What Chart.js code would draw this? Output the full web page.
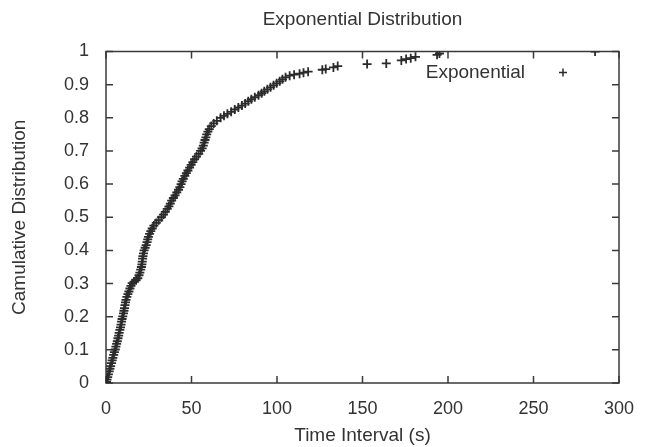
<!DOCTYPE html>
<html>
<head>
<meta charset="utf-8">
<script src="https://cdn.jsdelivr.net/npm/chart.js@4.4.0/dist/chart.umd.min.js"></script>
<style>
  html, body { margin: 0; padding: 0; background: #fff; }
</style>
</head>
<body>
<canvas id="chart" width="647" height="447"></canvas>
<script>
// Labels
const chartTitle = 'Exponential Distribution';
const xTitle = 'Time Interval (s)';
const yTitle = 'Camulative Distribution';
const seriesName = 'Exponential';

// Tick labels
const xTicks = [0, 50, 100, 150, 200, 250, 300];
const yTicks = [0, 0.1, 0.2, 0.3, 0.4, 0.5, 0.6, 0.7, 0.8, 0.9, 1];

// Series values (time interval, cumulative fraction)
const intervals = [
  0.3, 0.6, 1.0, 1.4, 1.9, 2.3, 2.7, 3.2, 3.6, 4.0,
  4.5, 4.9, 5.4, 5.8, 6.2, 6.6, 7.0, 7.4, 7.7, 8.1,
  8.5, 8.8, 9.1, 9.4, 9.8, 10.2, 10.5, 10.8, 11.1, 11.4,
  11.7, 12.2, 12.8, 13.4, 14.0, 14.6, 15.3, 16.4, 17.6, 18.6,
  19.3, 19.8, 20.3, 20.7, 21.0, 21.2, 21.4, 21.6, 21.9, 22.3,
  22.9, 23.5, 24.0, 24.4, 24.8, 25.5, 26.2, 27.0, 28.0, 29.4,
  30.8, 32.4, 33.6, 34.7, 35.8, 36.8, 37.6, 38.4, 39.4, 40.4,
  41.4, 42.4, 43.2, 43.9, 44.5, 45.2, 46.1, 47.0, 47.9, 48.9,
  49.8, 50.8, 51.8, 52.9, 54.2, 55.3, 56.2, 56.9, 57.4, 57.9,
  58.4, 58.9, 59.6, 60.4, 61.6, 63.0, 64.8, 67.0, 69.0, 71.0,
  73.2, 75.3, 77.4, 79.5, 81.4, 83.2, 85.0, 87.0, 89.2, 91.0,
  92.6, 94.4, 96.2, 98.0, 99.8, 101.6, 103.2, 105.0, 107.4, 110.0,
  113.2, 115.5, 118.2, 126.5, 128.5, 133.0, 135.5,
  152.7, 163.9, 172.7, 175.5, 178.2, 181.0, 193.6, 195.0, 286.0
];
const cumulative = [
  0.003, 0.010, 0.018, 0.026, 0.035, 0.043, 0.051, 0.060, 0.068, 0.076,
  0.085, 0.093, 0.101, 0.110, 0.118, 0.126, 0.135, 0.143, 0.151, 0.160,
  0.168, 0.176, 0.185, 0.193, 0.201, 0.210, 0.218, 0.226, 0.235, 0.243,
  0.251, 0.260, 0.268, 0.276, 0.285, 0.293, 0.301, 0.306, 0.310, 0.316,
  0.325, 0.333, 0.342, 0.350, 0.358, 0.366, 0.375, 0.383, 0.391, 0.400,
  0.408, 0.416, 0.425, 0.433, 0.441, 0.450, 0.458, 0.466, 0.475, 0.483,
  0.491, 0.500, 0.508, 0.516, 0.525, 0.533, 0.541, 0.550, 0.558, 0.566,
  0.575, 0.583, 0.591, 0.600, 0.608, 0.616, 0.625, 0.633, 0.641, 0.650,
  0.658, 0.666, 0.675, 0.683, 0.691, 0.700, 0.708, 0.716, 0.725, 0.733,
  0.741, 0.750, 0.758, 0.766, 0.775, 0.783, 0.791, 0.800, 0.806, 0.812,
  0.818, 0.825, 0.831, 0.837, 0.843, 0.850, 0.856, 0.862, 0.868, 0.874,
  0.880, 0.886, 0.892, 0.898, 0.904, 0.910, 0.916, 0.922, 0.927, 0.930,
  0.933, 0.936, 0.939, 0.945, 0.947, 0.952, 0.956,
  0.962, 0.964, 0.973, 0.977, 0.980, 0.984, 0.990, 0.994, 1.000
];

const textColor = '#333';
const lineColor = '#3a3a3a';
const markColor = '#2b2b2b';
const fontFamily = '"Liberation Sans", Arial, Helvetica, sans-serif';
const tickSize = 18;
const labelSize = 19;

// gnuplot-like frame, inward ticks on all four sides, title and key
const gnuplotFrame = {
  id: 'gnuplotFrame',
  beforeDatasetsDraw(chart) {
    const { ctx, chartArea: a, scales: { x, y } } = chart;
    const len = 7;
    ctx.save();
    ctx.strokeStyle = lineColor;
    ctx.lineWidth = 1.5;
    ctx.strokeRect(a.left, a.top, a.right - a.left, a.bottom - a.top);
    ctx.beginPath();
    xTicks.forEach(v => {
      const px = x.getPixelForValue(v);
      ctx.moveTo(px, a.bottom); ctx.lineTo(px, a.bottom - len);
      ctx.moveTo(px, a.top); ctx.lineTo(px, a.top + len);
    });
    yTicks.forEach(v => {
      const py = y.getPixelForValue(v);
      ctx.moveTo(a.left, py); ctx.lineTo(a.left + len, py);
      ctx.moveTo(a.right, py); ctx.lineTo(a.right - len, py);
    });
    ctx.stroke();
    ctx.restore();
  },
  afterDraw(chart) {
    const { ctx, chartArea: a } = chart;
    ctx.save();
    ctx.fillStyle = textColor;
    ctx.font = `${labelSize}px ${fontFamily}`;
    ctx.textBaseline = 'middle';

    // title
    ctx.textAlign = 'center';
    ctx.fillText(chartTitle, (a.left + a.right) / 2, 20);

    // key: text then sample
    ctx.textAlign = 'right';
    const ky = a.top + 21;
    ctx.fillText(seriesName, a.right - 94, ky);
    const kx = a.right - 56;
    ctx.strokeStyle = markColor;
    ctx.lineWidth = 1.5;
    ctx.beginPath();
    ctx.moveTo(kx - 4, ky); ctx.lineTo(kx + 4, ky);
    ctx.moveTo(kx, ky - 4); ctx.lineTo(kx, ky + 4);
    ctx.stroke();
    ctx.restore();
  }
};

const points = intervals.map((v, i) => ({ x: v, y: cumulative[i] }));

new Chart(document.getElementById('chart'), {
  type: 'scatter',
  data: {
    datasets: [{
      label: seriesName,
      data: points,
      pointStyle: 'cross',
      pointRadius: 4.5,
      pointBorderWidth: 1.8,
      borderColor: markColor,
      backgroundColor: markColor
    }]
  },
  options: {
    responsive: false,
    devicePixelRatio: 1,
    animation: false,
    layout: {
      padding: { top: 51.5, right: 28, left: 0, bottom: 0 }
    },
    scales: {
      x: {
        type: 'linear',
        min: 0,
        max: 300,
        afterBuildTicks: (s) => { s.ticks = xTicks.map(v => ({ value: v })); },
        afterFit: (s) => { s.height = 64; },
        grid: { display: false },
        border: { display: false },
        ticks: {
          color: textColor,
          padding: 7,
          maxRotation: 0,
          font: { family: fontFamily, size: tickSize }
        },
        title: {
          display: true,
          text: xTitle,
          color: textColor,
          padding: { top: 0, bottom: 0 },
          font: { family: fontFamily, size: labelSize }
        }
      },
      y: {
        type: 'linear',
        min: 0,
        max: 1,
        afterBuildTicks: (s) => { s.ticks = yTicks.map(v => ({ value: v })); },
        afterFit: (s) => { s.width = 106; },
        grid: { display: false },
        border: { display: false },
        ticks: {
          color: textColor,
          padding: 9,
          font: { family: fontFamily, size: tickSize },
          callback: (v) => String(Math.round(v * 10) / 10)
        },
        title: {
          display: true,
          text: yTitle,
          color: textColor,
          padding: { top: 8.6, bottom: 0 },
          font: { family: fontFamily, size: labelSize }
        }
      }
    },
    plugins: {
      legend: { display: false },
      tooltip: { enabled: false }
    }
  },
  plugins: [gnuplotFrame]
});
</script>
</body>
</html>
